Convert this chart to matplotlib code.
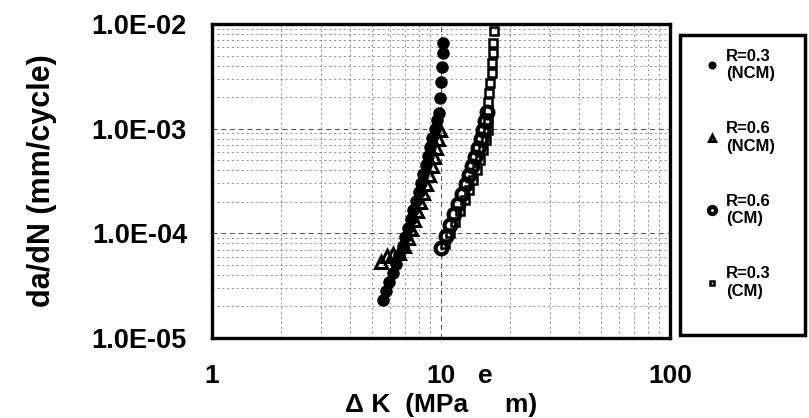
import matplotlib
matplotlib.use('Agg')
import matplotlib.pyplot as plt
from matplotlib.patches import Rectangle
from matplotlib.ticker import LogLocator, NullFormatter

plt.rcParams['font.family'] = ['Liberation Sans', 'DejaVu Sans']
plt.rcParams['font.weight'] = 'bold'

# R=0.3 (NCM), filled circles
k_r03_ncm = [5.58, 5.77, 5.96, 6.17, 6.37, 6.59, 6.80, 6.99, 7.18, 7.38, 7.58,
             7.79, 7.99, 8.18, 8.37, 8.57, 8.77, 8.97, 9.17, 9.39, 9.61,
             9.80, 9.90, 10.0, 10.1, 10.2, 10.2]
d_r03_ncm = [2.31e-5, 2.82e-5, 3.43e-5, 4.19e-5, 5.10e-5, 6.22e-5, 7.58e-5,
             9.24e-5, 1.13e-4, 1.37e-4, 1.67e-4, 2.04e-4, 2.48e-4, 3.03e-4,
             3.69e-4, 4.50e-4, 5.49e-4, 6.69e-4, 8.15e-4, 9.94e-4, 1.21e-3,
             1.41e-3, 1.96e-3, 2.79e-3, 3.88e-3, 5.28e-3, 6.59e-3]

# R=0.6 (NCM), triangles
k_r06_ncm = [5.47, 5.81, 6.17, 6.55, 6.89, 7.18, 7.40, 7.62, 7.86, 8.10,
             8.35, 8.60, 8.86, 9.13, 9.32, 9.51, 9.70, 9.90]
d_r06_ncm = [5.33e-5, 6.08e-5, 6.36e-5, 6.50e-5, 7.58e-5, 9.04e-5, 1.10e-4,
             1.34e-4, 1.64e-4, 2.00e-4, 2.43e-4, 2.96e-4, 3.61e-4, 4.40e-4,
             5.37e-4, 6.55e-4, 7.98e-4, 9.72e-4]

# R=0.6 (CM), open circles
k_r06_cm = [10.0, 10.5, 10.9, 11.4, 11.9, 12.4, 12.9, 13.3, 13.7, 14.1,
            14.5, 15.0, 15.3, 15.6, 15.9]
d_r06_cm = [7.26e-5, 9.44e-5, 1.20e-4, 1.53e-4, 1.91e-4, 2.38e-4, 2.96e-4,
            3.61e-4, 4.40e-4, 5.37e-4, 6.55e-4, 7.98e-4, 9.72e-4, 1.19e-3,
            1.44e-3]

# R=0.3 (CM), open squares
k_r03_cm = [10.4, 10.9, 11.5, 12.1, 12.7, 13.3, 13.8, 14.4, 14.8, 15.3,
            15.7, 16.0, 16.0, 16.0, 16.0, 16.2, 16.4, 16.7, 16.7, 16.9,
            16.9, 17.0]
d_r03_cm = [7.92e-5, 1.01e-4, 1.29e-4, 1.64e-4, 2.08e-4, 2.60e-4, 3.24e-4,
            4.03e-4, 5.02e-4, 6.26e-4, 7.80e-4, 9.72e-4, 1.21e-3, 1.51e-3,
            1.80e-3, 2.19e-3, 2.73e-3, 3.40e-3, 4.24e-3, 5.28e-3, 6.59e-3,
            8.57e-3]

x_ticks = [1, 10, 100]
x_labels = ['1', '10', '100']
y_ticks = [1e-5, 1e-4, 1e-3, 1e-2]
y_labels = ['1.0E-05', '1.0E-04', '1.0E-03', '1.0E-02']

fig = plt.figure(figsize=(8.09, 4.18), dpi=100)
ax = fig.add_axes([0.262, 0.1914, 0.5661, 0.7512])
ax.set_xscale('log')
ax.set_yscale('log')

ax.plot(k_r03_ncm, d_r03_ncm, 'o', color='black', ms=8,
        label='R=0.3\n(NCM)')
ax.plot(k_r06_ncm, d_r06_ncm, '^', mfc='none', mec='black', mew=2.2, ms=8,
        label='R=0.6\n(NCM)')
ax.plot(k_r06_cm, d_r06_cm, 'o', mfc='none', mec='black', mew=3.0, ms=8.5,
        label='R=0.6\n(CM)')
ax.plot(k_r03_cm, d_r03_cm, 's', mfc='none', mec='black', mew=1.8, ms=6,
        label='R=0.3\n(CM)')

ax.set_xlim(1, 100)
ax.set_ylim(1e-5, 1e-2)
ax.set_xticks(x_ticks)
ax.set_xticklabels(x_labels)
ax.set_yticks(y_ticks)
ax.set_yticklabels(y_labels)
ax.xaxis.set_minor_locator(LogLocator(base=10, subs=range(2, 10)))
ax.yaxis.set_minor_locator(LogLocator(base=10, subs=range(2, 10)))
ax.xaxis.set_minor_formatter(NullFormatter())
ax.yaxis.set_minor_formatter(NullFormatter())
ax.tick_params(which='both', length=0)
ax.tick_params(axis='y', labelsize=19.5, pad=18)
ax.tick_params(axis='x', labelsize=19, pad=19)

ax.grid(which='major', color='0.3', lw=0.7, ls=(0, (5, 4)))
ax.grid(which='minor', color='0.4', lw=0.5, ls=(0, (3, 4)))
ax.set_axisbelow(True)
for s in ax.spines.values():
    s.set_linewidth(2.4)

# stray glyph next to the 10 label (lost root sign)
fig.text(485 / 809, 1 - 376 / 418, 'e', fontsize=19, ha='center', va='center')

ax.set_xlabel('Δ K  (MPa     m)', fontsize=19, fontweight='bold')
ax.xaxis.set_label_coords(441 / 809, 1 - 405 / 418, transform=fig.transFigure)
ax.xaxis.label.set_va('center')

fig.text(0.052, 1 - 181 / 418, 'da/dN (mm/cycle)', rotation=90, fontsize=22,
         ha='center', va='center')

# legend box
fig.patches.append(Rectangle((680 / 809, 1 - 335 / 418), 125 / 809, 300 / 418,
                             transform=fig.transFigure, fill=False,
                             edgecolor='black', lw=2.5))
ax.legend(loc='upper left', bbox_to_anchor=(704 / 809, 1 - 49 / 418),
          bbox_transform=fig.transFigure, frameon=False, fontsize=12,
          handlelength=1.0, handletextpad=0.3, labelspacing=2.4,
          borderpad=0, borderaxespad=0, markerscale=0.6)

fig.savefig('out.png', dpi=100, facecolor='white')
